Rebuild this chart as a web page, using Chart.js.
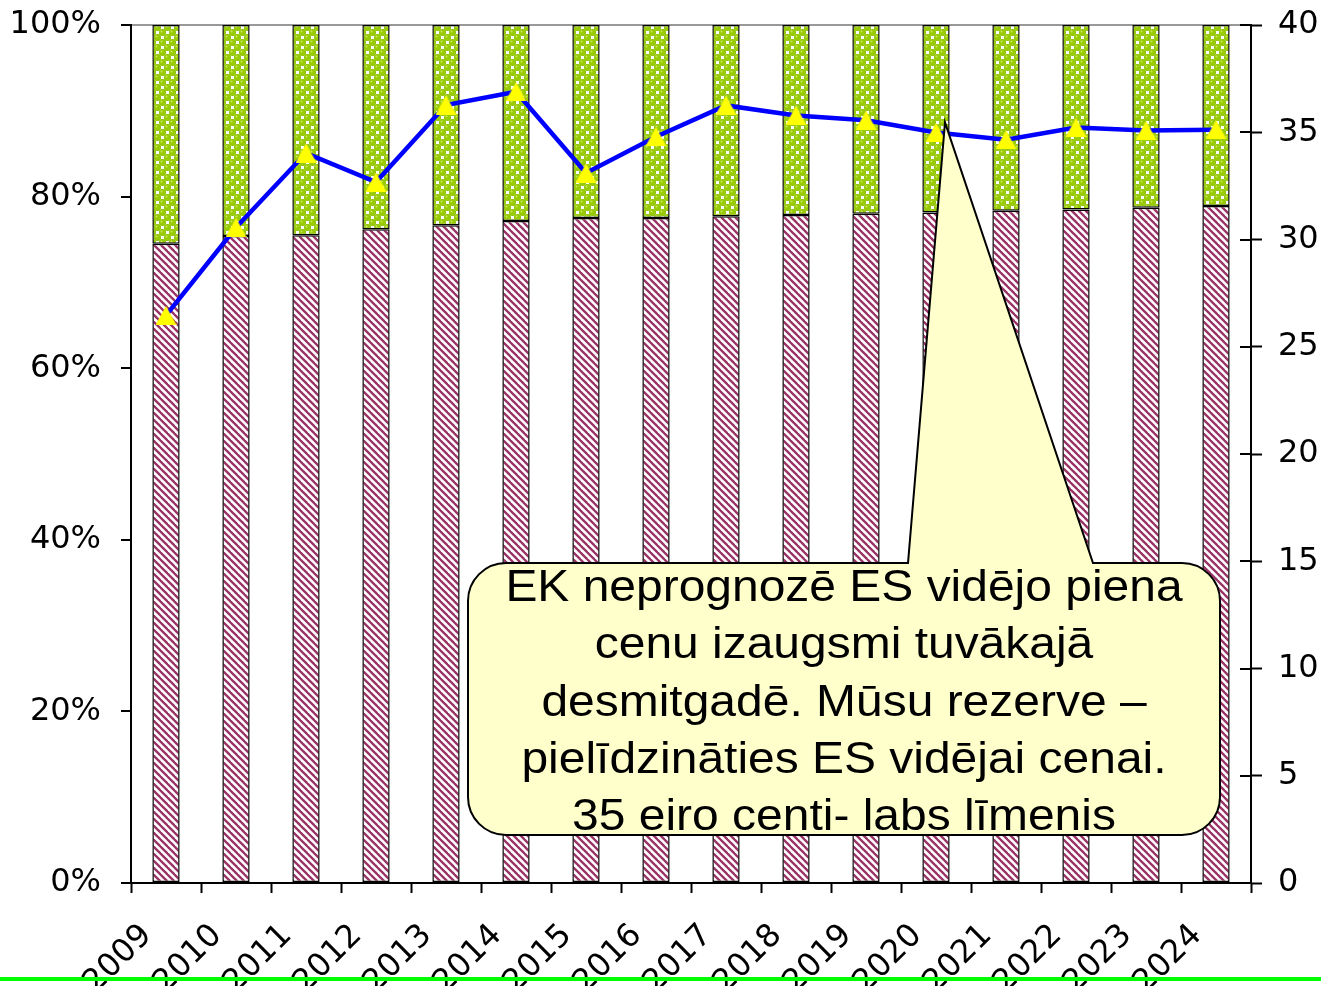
<!DOCTYPE html>
<html>
<head>
<meta charset="utf-8">
<script src="https://cdn.jsdelivr.net/npm/chart.js@4"></script>
<style>
html,body{margin:0;padding:0;background:#fff;}
#wrap{width:1321px;height:986px;position:relative;overflow:hidden;}
</style>
</head>
<body>
<div id="wrap"><canvas id="c" width="1321" height="986"></canvas></div>
<script>
const years = ['2009','2010','2011','2012','2013','2014','2015','2016','2017','2018','2019','2020','2021','2022','2023','2024'];
const lowerShare = [74.5, 75.4, 75.5, 76.2, 76.65, 77.15, 77.5, 77.5, 77.7, 77.85, 78.0, 78.15, 78.35, 78.5, 78.7, 78.9];
const upperShare = [25.5, 24.6, 24.5, 23.8, 23.35, 22.85, 22.5, 22.5, 22.3, 22.15, 22.0, 21.85, 21.65, 21.5, 21.3, 21.1];
const milkPrice = [26.46, 30.56, 34.03, 32.68, 36.27, 36.89, 33.1, 34.79, 36.25, 35.78, 35.56, 34.99, 34.65, 35.22, 35.08, 35.12];
const leftTicks = [0, 20, 40, 60, 80, 100];
const rightTicks = [0, 5, 10, 15, 20, 25, 30, 35, 40];
const calloutLines = ['EK neprognozē ES vidējo piena','cenu izaugsmi tuvākajā','desmitgadē. Mūsu rezerve –','pielīdzināties ES vidējai cenai.','35 eiro centi- labs līmenis'];
const calloutYearIndex = 11;

function stripePattern(){
  const s = 7;
  const c = document.createElement('canvas'); c.width = s; c.height = s;
  const g = c.getContext('2d');
  g.fillStyle = '#ffffff'; g.fillRect(0,0,s,s);
  g.strokeStyle = '#993366'; g.lineWidth = 2.3;
  for (const k of [-1,0,1]) { g.beginPath(); g.moveTo(k*s - 1, -1); g.lineTo(k*s + s + 1, s + 1); g.stroke(); }
  return document.createElement('canvas').getContext('2d').createPattern(c,'repeat');
}
function ballPattern(){
  const s = 10, h = s / 4;
  const c = document.createElement('canvas'); c.width = s; c.height = s;
  const g = c.getContext('2d');
  g.fillStyle = '#ffffff'; g.fillRect(0,0,s,s);
  const base = [[h,h],[3*h,3*h]];
  const centers = [];
  for (const [x,y] of base) for (const dx of [-s,0,s]) for (const dy of [-s,0,s]) centers.push([x+dx,y+dy]);
  for (const [x,y] of centers){
    g.fillStyle = '#88bb00'; g.beginPath(); g.arc(x,y,3.5,0,Math.PI*2); g.fill();
    g.fillStyle = '#99cc00'; g.beginPath(); g.arc(x,y,2.9,0,Math.PI*2); g.fill();
  }
  for (const [x,y] of centers){
    g.fillStyle = '#c8e660'; g.beginPath(); g.arc(x-1,y-1,1.0,0,Math.PI*2); g.fill();
  }
  return document.createElement('canvas').getContext('2d').createPattern(c,'repeat');
}
function triangleMarker(){
  const w = 21, h = 19;
  const c = document.createElement('canvas'); c.width = w; c.height = h;
  const g = c.getContext('2d');
  g.fillStyle = '#ffff00';
  g.beginPath(); g.moveTo(w/2, 0); g.lineTo(w, h); g.lineTo(0, h); g.closePath(); g.fill();
  return c;
}

const AXIS_FONT = {family: 'DejaVu Sans, Verdana, sans-serif', size: 32};

const overlay = {
  id: 'overlay',
  afterDatasetsDraw(chart){
    const ctx = chart.ctx;
    const y1 = chart.scales.y1;
    ctx.save();
    ctx.strokeStyle = '#000'; ctx.lineWidth = 2;
    for (const v of rightTicks){
      const py = Math.round(y1.getPixelForValue(v));
      ctx.beginPath(); ctx.moveTo(y1.left - 11, py); ctx.lineTo(y1.left, py); ctx.stroke();
    }
    ctx.restore();
  },
  afterDraw(chart){
    const ctx = chart.ctx;
    const xs = chart.scales.x, y1 = chart.scales.y1;
    const tipX = xs.getPixelForValue(calloutYearIndex) + 9;
    const tipY = y1.getPixelForValue(milkPrice[calloutYearIndex]) - 10;
    const L = 468, R = 1220, T = 563, B = 835, r = 38;
    const wL = 908, wR = 1093;
    ctx.save();
    ctx.beginPath();
    ctx.moveTo(L + r, T);
    ctx.lineTo(wL, T);
    ctx.lineTo(tipX, tipY);
    ctx.lineTo(wR, T);
    ctx.lineTo(R - r, T);
    ctx.arcTo(R, T, R, T + r, r);
    ctx.lineTo(R, B - r);
    ctx.arcTo(R, B, R - r, B, r);
    ctx.lineTo(L + r, B);
    ctx.arcTo(L, B, L, B - r, r);
    ctx.lineTo(L, T + r);
    ctx.arcTo(L, T, L + r, T, r);
    ctx.closePath();
    ctx.fillStyle = '#ffffcc';
    ctx.fill();
    ctx.lineWidth = 2;
    ctx.strokeStyle = '#000';
    ctx.stroke();
    ctx.fillStyle = '#000';
    ctx.font = '44px "Liberation Sans", Arial, sans-serif';
    ctx.textAlign = 'center';
    ctx.textBaseline = 'middle';
    const cx = (L + R) / 2;
    ctx.save();
    ctx.translate(cx, 0);
    ctx.scale(1.09, 1);
    calloutLines.forEach((t, i) => ctx.fillText(t, 0, 589 + i * 57.2));
    ctx.restore();
    ctx.fillStyle = '#00ff00';
    ctx.fillRect(0, 977, 1321, 4);
    ctx.restore();
  }
};

new Chart(document.getElementById('c'), {
  data: {
    labels: years,
    datasets: [
      {
        type: 'line', label: 'Cena', data: milkPrice, yAxisID: 'y1', order: 0,
        borderColor: '#0000ff', borderWidth: 4.5, tension: 0,
        pointStyle: triangleMarker(), pointRadius: 10, pointHoverRadius: 10
      },
      {
        type: 'bar', label: 'A', data: lowerShare, yAxisID: 'y', stack: 's', order: 2,
        backgroundColor: stripePattern(), borderColor: '#000', borderWidth: 1.5, borderSkipped: false,
        barPercentage: 0.39, categoryPercentage: 1
      },
      {
        type: 'bar', label: 'B', data: upperShare, yAxisID: 'y', stack: 's', order: 2,
        backgroundColor: ballPattern(), borderColor: '#000', borderWidth: 1.5, borderSkipped: false,
        barPercentage: 0.39, categoryPercentage: 1
      }
    ]
  },
  options: {
    responsive: false,
    animation: false,
    devicePixelRatio: 1,
    layout: {padding: {top: 25, left: 0, right: 0, bottom: 0}},
    plugins: {legend: {display: false}, tooltip: {enabled: false}},
    scales: {
      x: {
        stacked: true,
        afterFit: s => { s.height = 103; s.paddingLeft = 0; s.paddingRight = 0; },
        grid: {offset: true, drawOnChartArea: false, tickLength: 10, color: '#000', tickColor: '#000', tickWidth: 2},
        border: {color: '#000', width: 2},
        ticks: {font: AXIS_FONT, color: '#000', minRotation: 45, maxRotation: 45, padding: 24, labelOffset: -19, autoSkip: false}
      },
      y: {
        stacked: true, position: 'left', min: 0, max: 100,
        afterFit: s => { s.width = 131; s.paddingTop = 0; s.paddingBottom = 0; },
        afterBuildTicks: s => { s.ticks = leftTicks.map(v => ({value: v})); },
        grid: {
          drawOnChartArea: true, tickLength: 10, tickColor: '#000', tickWidth: 2,
          color: c => (c.tick && c.tick.value === 100) ? '#999999' : 'rgba(0,0,0,0)', lineWidth: 2
        },
        border: {color: '#000', width: 2},
        ticks: {font: AXIS_FONT, color: '#000', padding: 20, callback: v => v + '%'}
      },
      y1: {
        position: 'right', min: 0, max: 40,
        afterFit: s => { s.width = 70; s.paddingTop = 0; s.paddingBottom = 0; },
        afterBuildTicks: s => { s.ticks = rightTicks.map(v => ({value: v})); },
        grid: {drawOnChartArea: false, tickLength: 11, color: '#000', tickColor: '#000', tickWidth: 2},
        border: {color: '#000', width: 2},
        ticks: {font: AXIS_FONT, color: '#000', padding: 16}
      }
    }
  },
  plugins: [overlay]
});
</script>
</body>
</html>
